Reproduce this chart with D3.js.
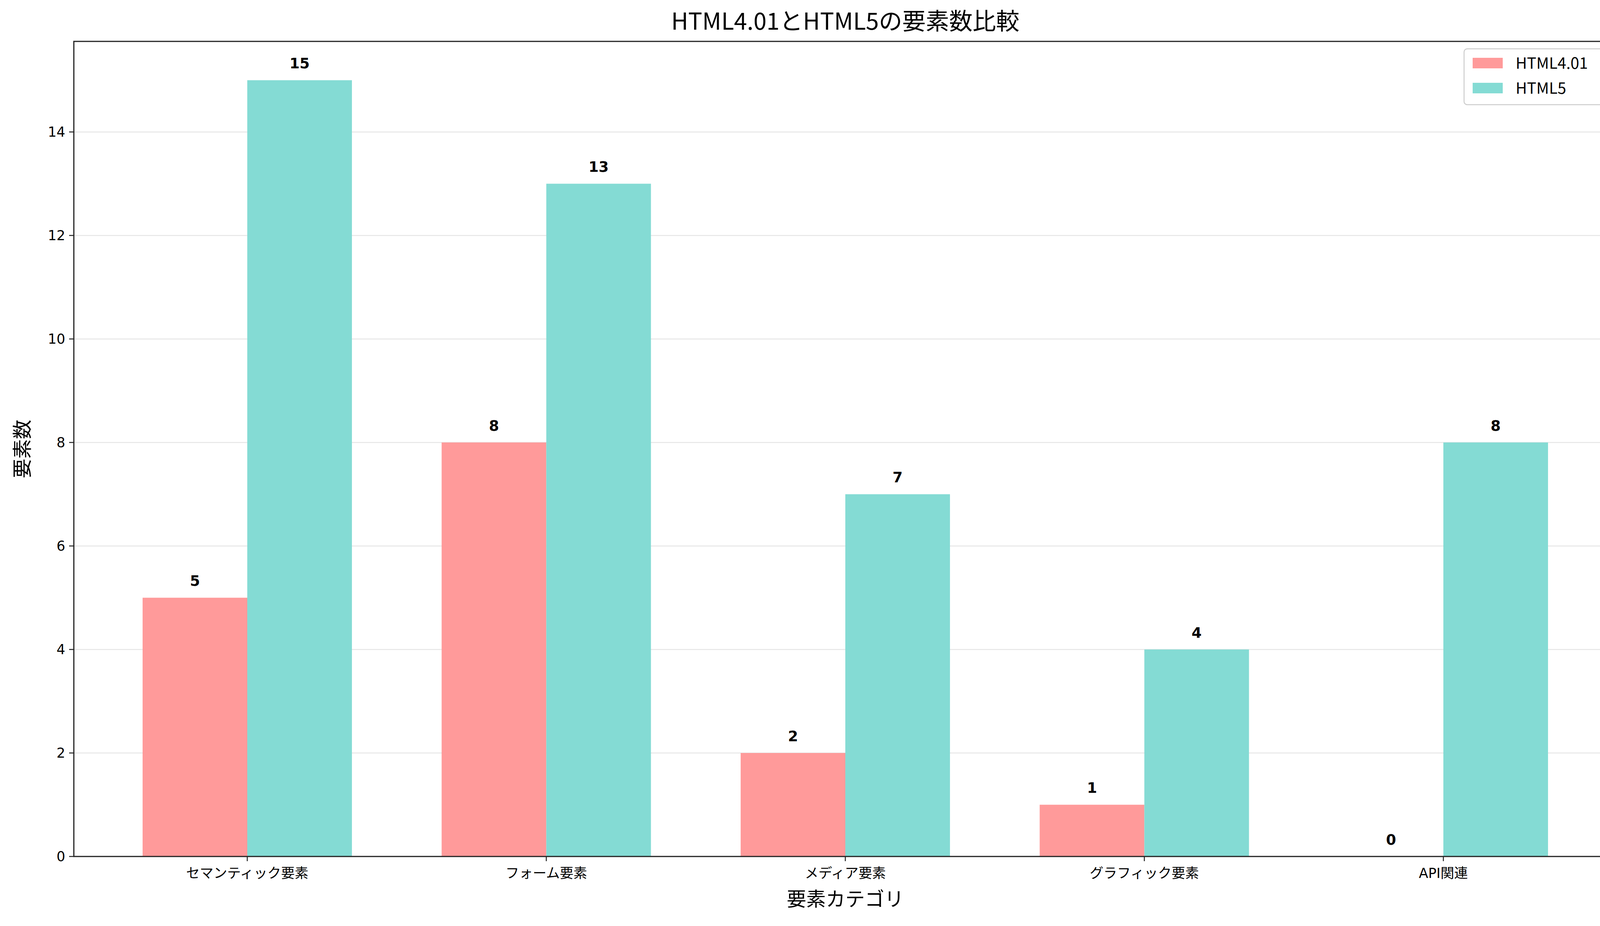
<!DOCTYPE html>
<html><head><meta charset="utf-8">
<script src="https://cdn.jsdelivr.net/npm/d3@7"></script>
<style>body{margin:0;background:#fff}</style></head>
<body><svg id="c" width="4168" height="2371"></svg>
<script>
const categories=["セマンティック要素","フォーム要素","メディア要素","グラフィック要素","API関連"];
const html401=[5,8,2,1,0];
const html5=[15,13,7,4,8];
const yTicks=[0,2,4,6,8,10,12,14];
const seriesNames=["HTML4.01","HTML5"];
const colors=["#ff9a9a","#84dbd4"];

const svg=d3.select("#c");
const L=189,R=4139,T=106,B=2193;
const F="'DejaVu Sans','Noto Sans CJK JP',sans-serif";
const x=d3.scaleLinear().domain([-0.58,4.58]).range([L,R]);
const y=d3.scaleLinear().domain([0,15.75]).range([B,T]);
const w=0.35;

svg.append("g").selectAll("line").data(yTicks).join("line")
 .attr("x1",L).attr("x2",R).attr("y1",d=>y(d)).attr("y2",d=>y(d))
 .attr("stroke","#e6e6e6").attr("stroke-width",2.5);

[html401,html5].forEach((arr,s)=>{
 svg.append("g").selectAll("rect").data(arr).join("rect")
  .attr("x",(d,i)=>x(i+(s?0:-w)))
  .attr("width",x(w)-x(0))
  .attr("y",d=>y(d)).attr("height",d=>B-y(d)).attr("fill",colors[s]);
 svg.append("g").selectAll("text").data(arr).join("text")
  .attr("x",(d,i)=>x(i+(s?w/2:-w/2))).attr("y",d=>y(d)-30)
  .attr("text-anchor","middle").attr("font-family",F).attr("font-weight","bold")
  .attr("font-size",37).text(d=>d);
});

svg.append("rect").attr("x",L).attr("y",T).attr("width",R-L).attr("height",B-T)
 .attr("fill","none").attr("stroke","#222").attr("stroke-width",3);

const ya=svg.append("g");
yTicks.forEach(t=>{
 ya.append("line").attr("x1",L-12).attr("x2",L).attr("y1",y(t)).attr("y2",y(t)).attr("stroke","#222").attr("stroke-width",2.5);
 ya.append("text").attr("x",L-22).attr("y",y(t)).attr("dy","0.35em").attr("text-anchor","end")
  .attr("font-family",F).attr("font-size",35).text(t);
});
categories.forEach((c,i)=>{
 svg.append("line").attr("x1",x(i)).attr("x2",x(i)).attr("y1",B).attr("y2",B+12).attr("stroke","#222").attr("stroke-width",2.5);
 svg.append("text").attr("x",x(i)).attr("y",B+55).attr("text-anchor","middle")
  .attr("font-family",F).attr("font-size",35).text(c);
});
svg.append("text").attr("x",(L+R)/2).attr("y",2320).attr("text-anchor","middle")
 .attr("font-family","'Noto Sans CJK JP'").attr("font-size",50).text("要素カテゴリ");
svg.append("text").attr("transform",`translate(${75},${(T+B)/2}) rotate(-90)`).attr("text-anchor","middle")
 .attr("font-family","'Noto Sans CJK JP'").attr("font-size",50).text("要素数");
svg.append("text").attr("x",(L+R)/2).attr("y",76).attr("text-anchor","middle")
 .attr("font-family","'Noto Sans CJK JP'").attr("font-size",60).text("HTML4.01とHTML5の要素数比較");

const lg=svg.append("g");
lg.append("rect").attr("x",3748).attr("y",125).attr("width",369).attr("height",143).attr("rx",8)
 .attr("fill","#fff").attr("fill-opacity",0.8).attr("stroke","#ccc").attr("stroke-width",2.5);
seriesNames.forEach((n,i)=>{
 lg.append("rect").attr("x",3770).attr("y",148+i*64).attr("width",77).attr("height",27).attr("fill",colors[i]);
 lg.append("text").attr("x",3880).attr("y",162+i*64).attr("dy","0.35em")
  .attr("font-family","'Noto Sans CJK JP'").attr("font-size",40).text(n);
});
</script></body></html>
